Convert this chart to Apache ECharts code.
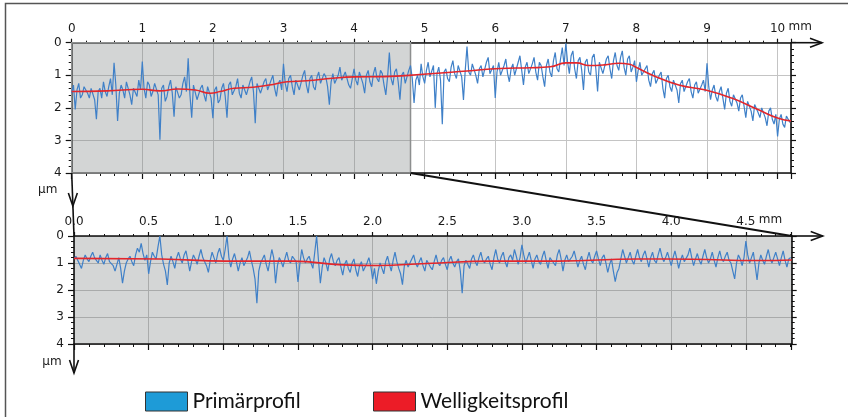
<!DOCTYPE html>
<html><head><meta charset="utf-8">
<script src="https://cdn.jsdelivr.net/npm/echarts@6/dist/echarts.min.js"></script>
<style>html,body{margin:0;padding:0;background:#fff}#c{width:848px;height:417px}</style>
</head><body><div id="c"></div>
<script>
// ---------- data ----------
const TOP_STEP = 0.025;   // mm between samples, overview profile (0 ... 10.175 mm), one row = 1 mm
const topPrimary = [
 1.55,1.3,2.05,1.45,1.25,1.7,1.6,1.35,1.3,1.55,1.7,1.4,1.35,1.75,2.35,1.5,1.4,1.7,1.2,1.5,1.65,1.35,1.1,1.6,0.62,1.3,2.4,1.55,1.3,1.45,1.7,1.2,1.2,1.6,1.9,1.4,1.35,1.65,1.15,1.45,
 0.58,1.4,1.7,1.2,1.3,1.65,1.5,1.25,1.25,1.6,2.98,1.4,1.3,1.8,1.65,1.35,1.15,1.55,2.27,1.35,1.3,1.7,1.6,1.25,1.05,1.5,0.48,1.6,2.3,1.3,1.35,1.75,1.7,1.4,1.3,1.6,1.8,1.35,1.4,1.7,
 2.32,1.45,1.35,1.85,1.75,1.4,1.25,1.65,2.3,1.3,1.2,1.6,1.6,1.35,1.1,1.55,1.7,1.3,1.25,1.6,1.55,1.2,1.05,1.5,2.47,1.25,1.3,1.55,1.6,1.2,1.1,1.45,1.5,1.15,1.0,1.4,1.65,1.25,1.15,1.45,
 0.65,1.25,1.5,1.1,1.0,1.35,1.6,1.15,1.1,1.45,1.4,1.0,0.85,1.3,1.55,1.1,1.0,1.35,1.45,1.05,0.9,1.25,1.3,0.95,1.05,1.35,1.9,1.2,0.95,1.25,1.3,1.0,0.75,1.15,1.2,0.9,0.9,1.3,1.4,1.1,
 0.8,1.15,1.3,0.9,0.95,1.25,1.55,1.0,0.85,1.2,1.35,0.95,0.75,1.1,1.2,0.85,0.95,1.3,1.6,1.05,0.3,1.1,1.3,0.9,0.8,1.2,1.75,1.0,0.9,1.25,1.3,0.85,0.7,1.1,1.85,1.15,1.0,1.3,0.65,1.05,
 1.25,0.85,0.6,1.05,1.1,0.7,2.0,0.95,0.75,1.15,2.5,0.9,0.8,1.1,1.2,0.75,0.55,0.95,1.1,0.7,0.7,1.05,1.76,0.85,0.12,0.9,1.0,0.65,0.6,1.0,1.25,0.8,0.7,1.05,1.1,0.6,0.45,0.95,1.0,0.7,
 1.7,0.9,0.6,1.0,1.05,0.7,0.5,0.95,1.2,0.8,0.65,1.0,0.95,0.6,0.4,0.85,1.3,0.75,0.6,0.95,1.0,0.65,0.45,0.9,1.15,0.6,0.7,1.05,1.35,0.7,0.5,0.9,1.05,0.55,0.3,0.8,0.9,0.5,0.15,0.7,
 0.02,0.6,0.95,0.4,0.25,0.8,1.1,0.55,0.45,0.85,1.45,0.6,0.5,0.9,1.0,0.45,0.35,0.8,1.5,0.6,0.55,0.95,1.0,0.5,0.4,0.8,1.1,0.55,0.3,0.7,0.85,0.45,0.25,0.75,1.0,0.5,0.4,0.9,0.75,0.55,
 1.2,0.85,0.6,1.0,1.05,0.8,0.7,1.15,1.35,0.95,0.85,1.25,1.3,1.0,0.9,1.4,1.7,1.1,1.0,1.35,1.5,1.15,1.1,1.45,1.85,1.25,1.15,1.5,1.55,1.2,1.1,1.5,1.7,1.3,1.2,1.55,1.6,1.3,1.15,1.5,
 0.63,1.35,1.75,1.45,1.3,1.65,1.8,1.5,1.35,1.7,2.05,1.55,1.4,1.8,1.95,1.6,1.55,1.85,2.1,1.7,1.6,1.95,2.3,1.8,1.75,2.1,2.4,1.9,1.85,2.15,2.3,2.0,2.0,2.3,2.55,2.1,2.0,2.35,2.5,2.2,
 2.88,2.35,2.2,2.5,2.6,2.25,2.3,2.45
];
const topWavX = [0,0.5,1.0,1.25,1.5,1.75,1.96,2.1,2.3,2.57,2.8,3.05,3.33,3.7,4.0,4.42,4.98,5.6,6.07,6.5,6.78,7.0,7.15,7.33,7.55,7.75,7.9,8.0,8.22,8.6,8.98,9.35,9.73,10.01,10.19];
const topWavY = [1.5,1.48,1.43,1.48,1.42,1.45,1.55,1.5,1.4,1.37,1.3,1.2,1.17,1.09,1.05,1.04,0.97,0.87,0.79,0.77,0.74,0.62,0.62,0.7,0.68,0.63,0.66,0.76,0.99,1.3,1.45,1.7,2.06,2.32,2.4];

const BOT_STEP = 0.0125;  // mm between samples, zoomed profile (0 ... 4.8 mm), one row = 0.5 mm
const botPrimary = [
 0.85,0.75,0.9,1.05,1.2,0.9,0.7,0.85,0.95,0.75,0.6,0.8,0.9,1.0,0.7,0.9,1.05,0.8,0.65,0.95,0.9,1.1,1.3,1.05,0.8,1.2,1.75,1.3,1.0,0.85,0.75,0.95,1.1,0.7,0.45,0.6,0.27,0.65,0.9,0.7,
 1.4,0.95,0.6,0.75,0.85,0.4,0.0,0.7,1.05,1.3,1.81,1.0,0.75,0.95,1.2,0.8,0.6,0.85,1.0,0.7,0.55,0.9,1.3,0.95,0.7,0.85,1.05,0.75,0.5,0.8,0.95,1.1,1.35,0.9,0.6,0.8,1.0,0.65,0.45,0.75,
 0.9,0.5,0.0,0.8,1.15,0.85,0.65,0.95,1.3,1.0,0.8,1.1,1.1,0.8,0.55,0.9,1.2,1.6,2.49,1.3,1.0,0.85,0.7,1.05,1.3,0.9,0.5,0.8,1.75,1.1,0.8,0.95,1.15,0.85,0.6,0.9,1.0,0.75,0.7,0.95,
 1.7,1.05,0.5,0.8,1.0,0.85,0.75,1.0,1.2,0.6,0.0,0.9,1.75,1.15,0.8,1.0,1.3,0.85,0.65,0.95,1.1,0.9,0.8,1.15,1.45,1.05,0.9,1.2,1.35,1.0,0.85,1.25,1.5,1.1,0.95,1.3,1.3,1.0,0.8,1.1,
 1.6,1.2,1.77,1.3,1.0,1.2,1.4,0.95,0.75,1.05,1.3,0.9,0.6,0.95,1.2,1.4,1.8,1.1,0.9,1.15,1.2,0.85,0.7,1.0,1.15,0.95,0.8,1.1,1.3,0.9,0.85,1.15,1.25,0.95,0.7,1.0,1.1,0.9,0.8,1.05,
 1.25,0.9,0.75,1.0,1.15,0.95,0.85,1.3,2.12,1.1,0.9,1.05,1.2,0.85,0.7,0.95,1.1,0.8,0.6,0.9,1.0,0.85,0.75,1.05,1.25,0.8,0.5,0.85,1.0,0.75,0.6,0.95,1.15,0.8,0.7,0.9,0.5,0.75,1.05,0.8,
 0.33,0.7,1.0,0.8,0.6,0.9,1.2,0.85,0.7,0.95,1.05,0.75,0.55,0.9,1.2,0.8,0.8,1.0,1.1,0.7,0.5,0.85,1.3,0.9,0.7,0.95,1.0,0.75,0.55,0.85,1.15,0.9,0.75,1.05,1.25,0.85,0.6,0.9,1.0,0.75,
 0.55,0.85,1.1,0.8,0.7,1.0,1.35,1.05,0.85,1.3,1.69,1.35,1.2,0.85,0.5,0.75,1.0,0.8,0.6,0.9,1.05,0.75,0.5,0.8,0.95,0.7,0.55,0.85,1.15,0.8,0.6,0.9,1.0,0.7,0.45,0.75,0.95,0.8,0.6,0.85,
 1.1,0.8,0.55,0.85,1.2,0.9,0.7,0.95,0.95,0.7,0.45,0.8,1.1,0.85,0.65,0.9,1.05,0.75,0.5,0.8,1.0,0.85,0.6,0.9,1.15,0.8,0.55,0.85,0.95,0.75,0.6,0.9,1.0,1.3,1.59,1.0,0.7,0.85,1.1,0.8,
 0.19,0.7,1.0,0.8,0.6,1.1,1.63,1.0,0.7,0.9,1.05,0.75,0.5,0.85,1.0,0.8,0.6,0.85,1.1,0.8,0.55,0.9,1.15,0.85,0.8
];
const botWavX = [0,0.58,1.02,1.47,1.8,2.03,2.36,2.8,3.24,3.78,4.14,4.58,4.807];
const botWavY = [0.83,0.85,0.93,0.93,1.07,1.09,1.02,0.93,0.93,0.85,0.86,0.91,0.89];

const topXTicks = {min:0, max:10.19, interval:1};
const botXTicks = {min:0, max:4.807, interval:0.5};
const yTicks = {min:0, max:4, interval:1};
const zoomEnd = 4.8;   // mm, end of the magnified section
const names = ['Primärprofil','Welligkeitsprofil'];

// ---------- helpers ----------
const pts = (vals, step) => vals.map((v,i)=>[+(i*step).toFixed(4), v]);
const zip = (xs, ys) => xs.map((x,i)=>[x, ys[i]]);
const AX = '#111';
const FONT = 'DejaVu Sans';
function xTop(grid, t, splitColor, fmt){
  return {type:'value', gridIndex:grid, position:'top', min:t.min, max:t.max, interval:t.interval,
    axisLine:{show:true, onZero:false, lineStyle:{color:AX, width:1.6}},
    axisTick:{show:true, length:4, lineStyle:{color:AX, width:1.2}},
    minorTick:{show:true, splitNumber:5, length:2, lineStyle:{color:AX, width:1}},
    splitLine:{show:true, lineStyle:{color:splitColor, width:1}},
    axisLabel:{show:true, margin:8, fontFamily:FONT, fontSize:12, color:'#1a1a1a', showMaxLabel:false, formatter:fmt}};
}
function xBot(grid, t){
  return {type:'value', gridIndex:grid, position:'bottom', min:t.min, max:t.max, interval:t.interval,
    axisLine:{show:true, onZero:false, lineStyle:{color:AX, width:1.6}},
    axisTick:{show:true, length:6, lineStyle:{color:AX, width:1.2}},
    minorTick:{show:true, splitNumber:5, length:3, lineStyle:{color:AX, width:1}},
    splitLine:{show:false}, axisLabel:{show:false}};
}
function yLeft(grid, splitColor){
  return {type:'value', gridIndex:grid, position:'left', inverse:true, min:yTicks.min, max:yTicks.max, interval:yTicks.interval,
    axisLine:{show:true, onZero:false, lineStyle:{color:AX, width:1.6}},
    axisTick:{show:true, length:6, lineStyle:{color:AX, width:1.2}},
    minorTick:{show:true, splitNumber:5, length:3, lineStyle:{color:AX, width:1}},
    splitLine:{show:true, lineStyle:{color:splitColor, width:1}},
    axisLabel:{show:true, margin:10, fontFamily:FONT, fontSize:12, color:'#1a1a1a'}};
}
function yRight(grid){
  return {type:'value', gridIndex:grid, position:'right', inverse:true, min:yTicks.min, max:yTicks.max, interval:yTicks.interval,
    axisLine:{show:true, onZero:false, lineStyle:{color:AX, width:1.6}},
    axisTick:{show:true, length:5, lineStyle:{color:AX, width:1.2}},
    minorTick:{show:true, splitNumber:5, length:3, lineStyle:{color:AX, width:1}},
    splitLine:{show:false}, axisLabel:{show:false}};
}

const chart = echarts.init(document.getElementById('c'), null, {renderer:'canvas'});
const BLUE = '#3f80c8', RED = '#e3262b';
const option = {
  animation:false,
  backgroundColor:'#fff',
  grid:[
    {left:71.7, top:42.7, width:719.3, height:130.3, show:false},
    {left:74, top:236, width:717.7, height:108, show:true, backgroundColor:'#d4d6d6', borderWidth:0}
  ],
  xAxis:[ xTop(0, topXTicks, '#c4c4c4', v=>String(v)), xBot(0, topXTicks),
          xTop(1, botXTicks, '#a9abab', v=>v.toFixed(1)), xBot(1, botXTicks) ],
  yAxis:[ yLeft(0, '#c4c4c4'), yRight(0), yLeft(1, '#a9abab'), yRight(1) ],
  legend:[
    {data:[{name:names[0], itemStyle:{color:'#1e9bd7', borderColor:'#333', borderWidth:1}}],
     left:145, top:391, padding:0, itemWidth:42, itemHeight:19, icon:'rect', selectedMode:false,
     textStyle:{fontFamily:'Lato', fontSize:21, color:'#111', lineHeight:19}},
    {data:[{name:names[1], itemStyle:{color:'#ec1c27', borderColor:'#333', borderWidth:1}}],
     left:373, top:391, padding:0, itemWidth:42, itemHeight:19, icon:'rect', selectedMode:false,
     textStyle:{fontFamily:'Lato', fontSize:21, color:'#111', lineHeight:19}}
  ],
  series:[
    {name:names[0], type:'line', xAxisIndex:0, yAxisIndex:0, data:pts(topPrimary, TOP_STEP), symbol:'none',
     lineStyle:{color:BLUE, width:1.2}, itemStyle:{color:BLUE}, z:3,
     markArea:{silent:true, itemStyle:{color:'rgba(118,124,124,0.32)', borderColor:'#8d8f8f', borderWidth:1.5},
       data:[[{xAxis:0},{xAxis:zoomEnd}]]}},
    {name:names[1], type:'line', xAxisIndex:0, yAxisIndex:0, data:zip(topWavX, topWavY), smooth:0.5, symbol:'none',
     lineStyle:{color:RED, width:1.6}, itemStyle:{color:RED}, z:4},
    {name:names[0], type:'line', xAxisIndex:2, yAxisIndex:2, data:pts(botPrimary, BOT_STEP), symbol:'none',
     lineStyle:{color:BLUE, width:1.2}, itemStyle:{color:BLUE}, z:3},
    {name:names[1], type:'line', xAxisIndex:2, yAxisIndex:2, data:zip(botWavX, botWavY), smooth:0.5, symbol:'none',
     lineStyle:{color:RED, width:1.6}, itemStyle:{color:RED}, z:4}
  ]
};
chart.setOption(option);

// ---------- decorations anchored to the axes ----------
const p0 = (x,y)=>chart.convertToPixel({gridIndex:0},[x,y]);
const p1 = (x,y)=>chart.convertToPixel({gridIndex:1},[x,y]);
const A = {stroke:'#111', lineWidth:1.6, fill:null};
const g = [];
function line(a,b,w){ g.push({type:'line', silent:true, z:50, shape:{x1:a[0],y1:a[1],x2:b[0],y2:b[1]}, style:Object.assign({},A,{lineWidth:w||1.6})}); }
function arrowR(x,y){ g.push({type:'polyline', silent:true, z:50, shape:{points:[[x-12,y-4.5],[x,y],[x-12,y+4.5]]}, style:Object.assign({},A)}); }
function arrowD(x,y){ g.push({type:'polyline', silent:true, z:50, shape:{points:[[x-4.5,y-13],[x,y],[x+4.5,y-13]]}, style:Object.assign({},A)}); }
function text(x,y,s,al){ g.push({type:'text', silent:true, z:50, x:x, y:y, style:{text:s, fontFamily:FONT, fontSize:12, fill:'#1a1a1a', align:al||'left', verticalAlign:'middle'}}); }

// top chart axes arrows
const tR = p0(topXTicks.max, 0);
line(tR, [tR[0]+31, tR[1]]); arrowR(tR[0]+31, tR[1]);
const tBL = p0(0, yTicks.max), bTL = p1(0, 0);
line(tBL, bTL); arrowD(tBL[0]+ (bTL[0]-tBL[0])*0.5, tBL[1]+33);
// bottom chart arrows
const bR = p1(botXTicks.max, 0);
line(bR, [bR[0]+31, bR[1]]); arrowR(bR[0]+31, bR[1]);
const bBL = p1(0, yTicks.max);
line(bBL, [bBL[0], bBL[1]+29]); arrowD(bBL[0], bBL[1]+29);
// zoom connector
line(p0(zoomEnd, yTicks.max), p1(botXTicks.max, 0), 2.2);
// units
const t10 = p0(10, 0); text(t10[0]+11, t10[1]-16, 'mm');
const b45 = p1(4.5, 0); text(b45[0]+13, b45[1]-16, 'mm');
text(tBL[0]-24, tBL[1]+17, 'µm', 'center');
text(bBL[0]-22, bBL[1]+18, 'µm', 'center');
// frame
g.push({type:'rect', silent:true, z:0, shape:{x:5.5, y:3.5, width:1000, height:1000}, style:{stroke:'#555', lineWidth:1.5, fill:null}});
chart.setOption({graphic:g});
</script></body></html>
